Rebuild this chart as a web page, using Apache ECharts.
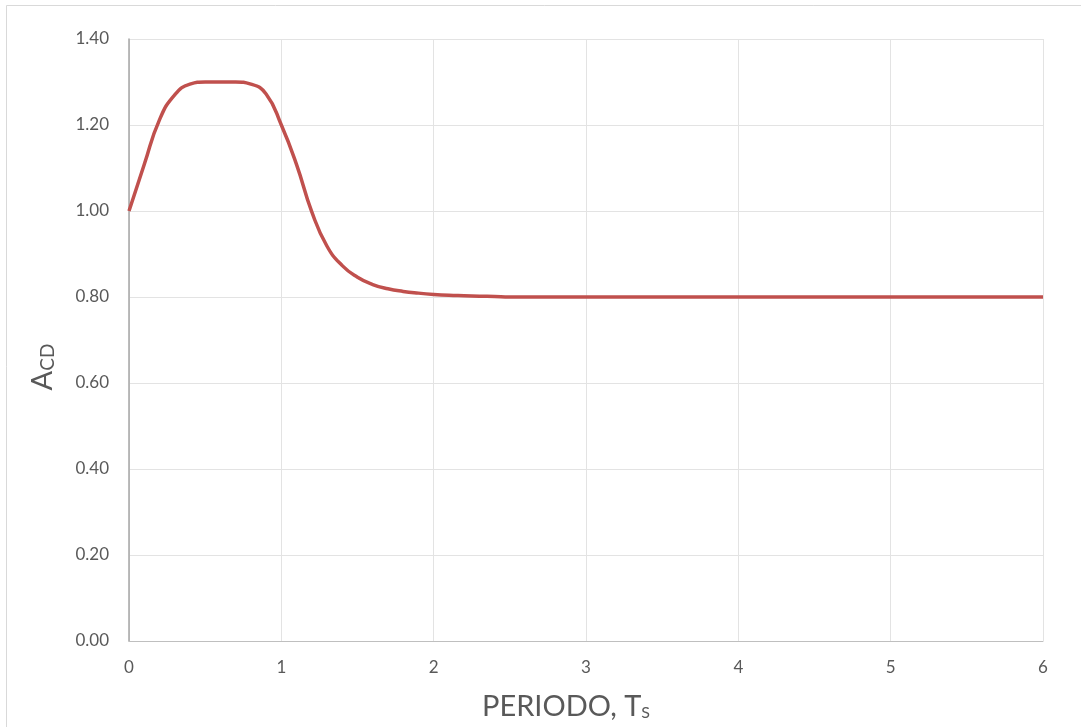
<!DOCTYPE html>
<html>
<head>
<meta charset="utf-8">
<script src="https://cdn.jsdelivr.net/npm/echarts@6/dist/echarts.min.js"></script>
<style>
  html, body { margin: 0; padding: 0; background: #ffffff; }
  #chart { width: 1081px; height: 727px; }
</style>
</head>
<body>
<div id="chart"></div>
<script>
// Periodo (s) y factor de amplificación A_CD
const periods = [
  0.0, 0.1, 0.2, 0.3, 0.4, 0.5, 0.6, 0.7, 0.8, 0.9,
  1.0, 1.1, 1.2, 1.3, 1.4, 1.5, 1.6, 1.7, 1.8, 1.9,
  2.0, 2.1, 2.2, 2.3, 2.4, 2.5, 3.0, 3.5, 4.0, 4.5,
  5.0, 5.5, 6.0
];
const acd = [
  1.000, 1.108, 1.212, 1.270, 1.295, 1.300, 1.300, 1.300, 1.295, 1.272,
  1.200, 1.108, 0.998, 0.918, 0.873, 0.846, 0.829, 0.819, 0.813, 0.809,
  0.806, 0.804, 0.803, 0.802, 0.801, 0.800, 0.800, 0.800, 0.800, 0.800,
  0.800, 0.800, 0.800
];
const xTicks = { min: 0, max: 6, step: 1 };
const yTicks = { min: 0, max: 1.4, step: 0.2 };

const font = 'Lato, "Open Sans", sans-serif';
const chart = echarts.init(document.getElementById('chart'), null, { renderer: 'canvas' });

chart.setOption({
  backgroundColor: '#ffffff',
  animation: false,
  graphic: [{
    type: 'rect',
    shape: { x: 6.5, y: 5.5, width: 1100, height: 800 },
    style: { fill: 'none', stroke: '#d9d9d9', lineWidth: 1 },
    silent: true
  }],
  grid: { left: 129, right: 38, top: 39, bottom: 86 },
  xAxis: {
    type: 'value',
    min: xTicks.min, max: xTicks.max, interval: xTicks.step,
    axisLine: { show: true, onZero: false, lineStyle: { color: '#bfbfbf', width: 1 } },
    axisTick: { show: false },
    splitLine: { show: true, lineStyle: { color: '#e3e3e3', width: 1 } },
    axisLabel: { color: '#595959', fontSize: 17, fontFamily: font, margin: 18 },
    name: '{a|PERIODO, T}{b|S}',
    nameLocation: 'middle',
    nameGap: 49,
    nameTextStyle: {
      padding: [0, 40, 0, 0],
      rich: {
        a: { fontSize: 29, color: '#595959', fontFamily: font, verticalAlign: 'bottom', lineHeight: 31 },
        b: { fontSize: 16, color: '#595959', fontFamily: font, verticalAlign: 'bottom', lineHeight: 25 }
      }
    }
  },
  yAxis: {
    type: 'value',
    min: yTicks.min, max: yTicks.max, interval: yTicks.step,
    axisLine: { show: true, lineStyle: { color: '#a6a6a6', width: 1.5 } },
    axisTick: { show: false },
    splitLine: { show: true, lineStyle: { color: '#e3e3e3', width: 1 } },
    axisLabel: {
      color: '#595959', fontSize: 17, fontFamily: font, margin: 20,
      formatter: v => v.toFixed(2)
    },
    name: '{a|A}{b|CD}',
    nameLocation: 'middle',
    nameRotate: 90,
    nameGap: 72,
    nameTextStyle: {
      padding: [0, 54, 0, 0],
      rich: {
        a: { fontSize: 29, color: '#595959', fontFamily: font, verticalAlign: 'bottom', lineHeight: 30 },
        b: { fontSize: 19, color: '#595959', fontFamily: font, verticalAlign: 'bottom', lineHeight: 27 }
      }
    }
  },
  series: [{
    type: 'line',
    data: periods.map((p, i) => [p, acd[i]]),
    smooth: 0.5,
    showSymbol: false,
    lineStyle: { color: '#c0504d', width: 3.5 },
    itemStyle: { color: '#c0504d' }
  }]
});
</script>
</body>
</html>
